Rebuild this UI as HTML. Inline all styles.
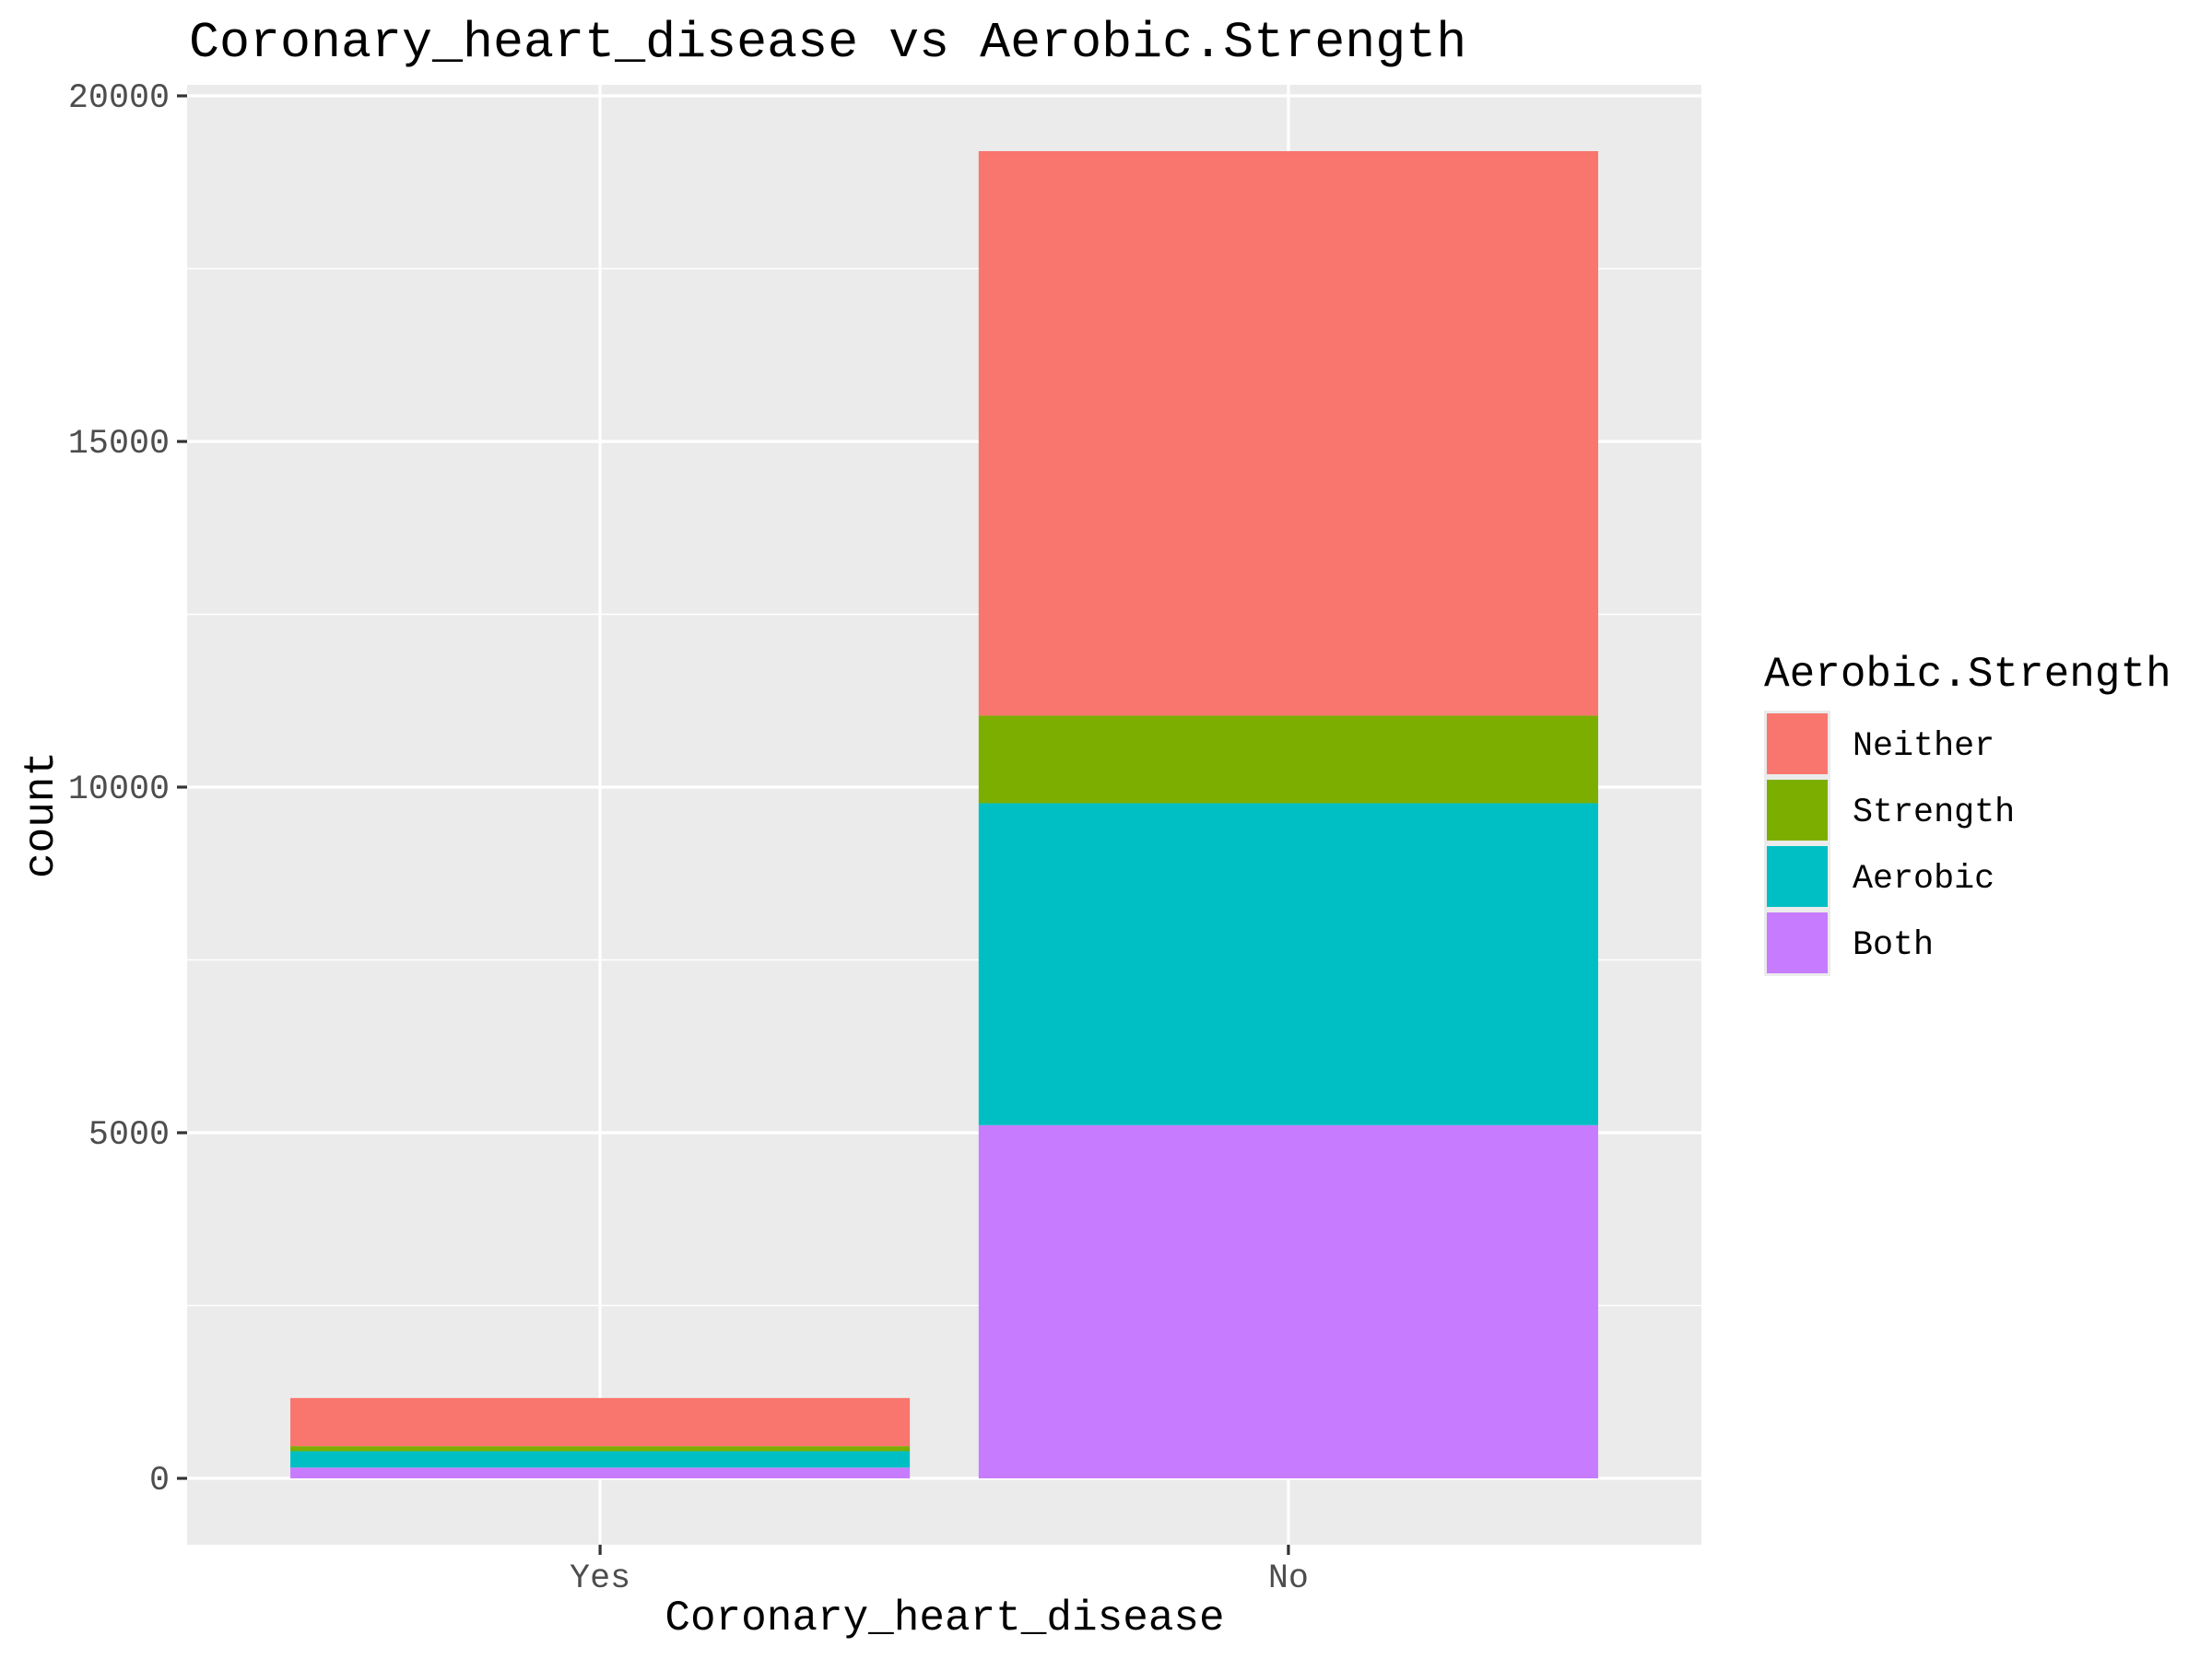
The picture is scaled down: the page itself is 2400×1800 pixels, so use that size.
<!DOCTYPE html>
<html><head><meta charset="utf-8">
<style>
html,body{margin:0;padding:0;background:#fff;}
svg{display:block;font-family:"Liberation Mono",monospace;}
</style></head>
<body>
<svg id="chart" width="2400" height="1800" viewBox="0 0 2400 1800">
<rect x="0" y="0" width="2400" height="1800" fill="#fff"/>
<text x="205" y="61" font-size="55" fill="#000">Coronary_heart_disease vs Aerobic.Strength</text>
<rect x="203" y="92" width="1643" height="1584" fill="#ebebeb"/>
<g id="grid"></g>
<g id="bars"></g>
<g id="axes"></g>
<text x="1025" y="1768" font-size="46" text-anchor="middle" fill="#000">Coronary_heart_disease</text>
<text transform="translate(57,884) rotate(-90)" font-size="46" text-anchor="middle" fill="#000">count</text>
<g id="legend"></g>
</svg>
<script>
const categories = ["Yes", "No"];
const groups = ["Neither", "Strength", "Aerobic", "Both"];
const colors = ["#F8766D", "#7CAE00", "#00BFC4", "#C77CFF"];
const bothVals = [156, 5110];
const aerobicVals = [237, 4657];
const strengthVals = [72, 1267];
const neitherVals = [697, 8166];
const yTicks = [0, 5000, 10000, 15000, 20000];

const NS = "http://www.w3.org/2000/svg";
const px0 = 203, px1 = 1846, py0 = 92, py1 = 1676;
const totals = categories.map((c, i) => bothVals[i] + aerobicVals[i] + strengthVals[i] + neitherVals[i]);
const ymax = Math.max(...totals);
const yLo = -0.05 * ymax, yHi = ymax * 1.05;
function y(v) { return py1 - (v - yLo) / (yHi - yLo) * (py1 - py0); }
const n = categories.length;
const unit = (px1 - px0) / (n - 1 + 1.2);
function x(i) { return px0 + (0.6 + i) * unit; }
const barW = 0.9 * unit;

function mk(tag, attrs, parent) {
  const e = document.createElementNS(NS, tag);
  for (const k in attrs) e.setAttribute(k, attrs[k]);
  parent.appendChild(e);
  return e;
}
const grid = document.getElementById("grid");
for (let i = 0; i < yTicks.length - 1; i++) {
  const m = (yTicks[i] + yTicks[i + 1]) / 2;
  const l = mk("line", { x1: px0, x2: px1, y1: y(m), y2: y(m), stroke: "#fff", "stroke-width": 1.6 }, grid);
  
  
}
yTicks.forEach(t => {
  const l = mk("line", { x1: px0, x2: px1, y1: y(t), y2: y(t), stroke: "#fff", "stroke-width": 3.2 }, grid);
  
  
});
categories.forEach((c, i) => {
  const l = mk("line", { x1: x(i), x2: x(i), y1: py0, y2: py1, stroke: "#fff", "stroke-width": 3.2 }, grid);
  
  
});

const bars = document.getElementById("bars");
const series = [bothVals, aerobicVals, strengthVals, neitherVals];
const seriesNames = ["Both", "Aerobic", "Strength", "Neither"];
const seriesColors = [colors[3], colors[2], colors[1], colors[0]];
categories.forEach((c, i) => {
  let base = 0;
  series.forEach((s, k) => {
    const top = base + s[i];
    const r = mk("rect", { x: x(i) - barW / 2, y: y(top), width: barW, height: y(base) - y(top), fill: seriesColors[k] }, bars);
    
    
    base = top;
  });
});

const axes = document.getElementById("axes");
yTicks.forEach(t => {
  const tk = mk("line", { x1: px0 - 11, x2: px0, y1: y(t), y2: y(t), stroke: "#333", "stroke-width": 3.2 }, axes);
  
  
  const tx = mk("text", { x: px0 - 19, y: y(t) + 12, "font-size": 36.7, "text-anchor": "end", fill: "#4D4D4D" }, axes);
  tx.textContent = String(t);
  
  
});
categories.forEach((c, i) => {
  const tk = mk("line", { x1: x(i), x2: x(i), y1: py1, y2: py1 + 11, stroke: "#333", "stroke-width": 3.2 }, axes);
  
  
  const tx = mk("text", { x: x(i), y: 1722, "font-size": 36.7, "text-anchor": "middle", fill: "#4D4D4D" }, axes);
  tx.textContent = c;
  
  
});

const legend = document.getElementById("legend");
const lt = mk("text", { x: 1914, y: 744, "font-size": 46, fill: "#000" }, legend);
lt.textContent = "Aerobic.Strength";


groups.forEach((g, k) => {
  const ky = 771 + k * 72;
  const bg = mk("rect", { x: 1914, y: ky, width: 72, height: 72, fill: "#ebebeb" }, legend);
  
  
  const sw = mk("rect", { x: 1917, y: ky + 3, width: 66, height: 66, fill: colors[k] }, legend);
  
  
  const tx = mk("text", { x: 2010, y: ky + 48, "font-size": 36.7, fill: "#000" }, legend);
  tx.textContent = g;
  
  
});
</script>
</body></html>
